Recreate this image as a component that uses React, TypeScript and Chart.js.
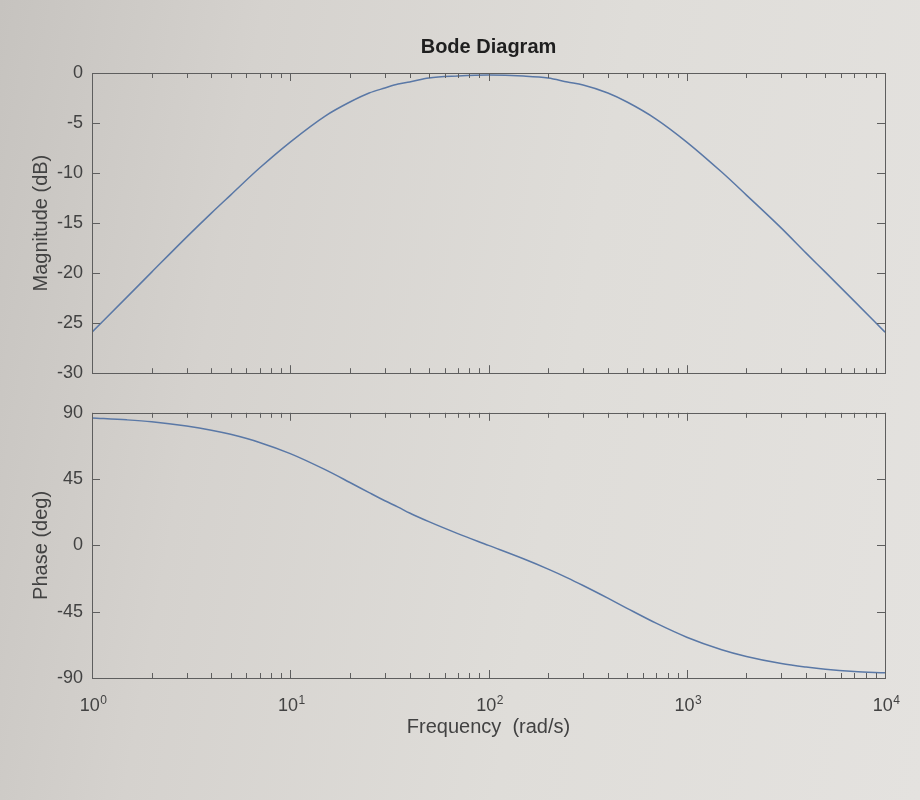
import React, { useEffect, useRef } from "react";
import { Chart, registerables } from "chart.js";

Chart.register(...registerables);

// ---- data ----
const FREQ = [1, 1.5, 2, 3, 4, 5, 7, 10, 15, 20, 25, 30, 35, 40, 50, 70, 100, 150, 200, 250, 300, 400, 500, 700, 1000, 1500, 2000, 3000, 4000, 5000, 7000, 10000];
const MAG_DB = [-25.9, -22.4, -19.9, -16.4, -14.0, -12.2, -9.5, -6.9, -4.3, -2.9, -2.0, -1.5, -1.1, -0.9, -0.5, -0.3, -0.2, -0.3, -0.5, -0.9, -1.2, -2.0, -2.9, -4.6, -6.9, -9.9, -12.2, -15.5, -18.0, -19.9, -22.8, -25.9];
const PHASE_DEG = [86.5, 85.2, 83.9, 81.0, 78.2, 75.4, 69.9, 62.3, 51.4, 42.7, 35.8, 30.3, 26.0, 22.0, 16.1, 8.0, 0, -9.1, -16.1, -22.0, -27.2, -35.8, -42.7, -52.8, -62.3, -70.8, -75.4, -80.2, -82.6, -84.1, -85.6, -86.5];

const X_TICKS = [1, 10, 100, 1000, 10000];
const X_TICK_BASE = "10";
const X_TICK_EXP = ["0", "1", "2", "3", "4"];
const X_MINOR_MULT = [2, 3, 4, 5, 6, 7, 8, 9];
const MAG_TICKS = [0, -5, -10, -15, -20, -25, -30];
const PHASE_TICKS = [90, 45, 0, -45, -90];

const TITLE = "Bode Diagram";
const MAG_LABEL = "Magnitude (dB)";
const PHASE_LABEL = "Phase (deg)";
const FREQ_LABEL = "Frequency  (rad/s)";

// ---- styles ----
const FONT = "'Liberation Sans', Arial, Helvetica, sans-serif";
const LINE_COLOR = "#5a78a6";
const AXIS_COLOR = "#5e5e5e";
const TEXT_COLOR = "#424242";

const boxTicksPlugin = {
  id: "boxTicks",
  afterDatasetsDraw(chart: any) {
    const { ctx, chartArea } = chart;
    const { left, right, top, bottom } = chartArea;
    const xs = chart.scales.x;
    const ys = chart.scales.y;
    ctx.save();
    ctx.strokeStyle = AXIS_COLOR;
    ctx.lineWidth = 1;
    ctx.beginPath();
    const drawX = (v: number, len: number) => {
      const px = Math.round(xs.getPixelForValue(v)) + 0.5;
      ctx.moveTo(px, bottom);
      ctx.lineTo(px, bottom - len);
      ctx.moveTo(px, top);
      ctx.lineTo(px, top + len);
    };
    X_TICKS.forEach((d) => {
      drawX(d, 8);
      if (d < 10000) X_MINOR_MULT.forEach((m) => drawX(m * d, 5));
    });
    ys.ticks.forEach((t: any) => {
      const py = Math.round(ys.getPixelForValue(t.value)) + 0.5;
      ctx.moveTo(left, py);
      ctx.lineTo(left + 8, py);
      ctx.moveTo(right, py);
      ctx.lineTo(right - 8, py);
    });
    ctx.stroke();
    ctx.strokeRect(Math.round(left) + 0.5, Math.round(top) + 0.5, Math.round(right - left), Math.round(bottom - top));
    ctx.restore();
  },
};

// power-of-ten tick labels (base + raised exponent) on the x scale of the lower chart
const expLabelsPlugin = {
  id: "expLabels",
  afterDraw(chart: any) {
    const { ctx, chartArea } = chart;
    const xs = chart.scales.x;
    ctx.save();
    ctx.fillStyle = TEXT_COLOR;
    ctx.textBaseline = "alphabetic";
    ctx.textAlign = "left";
    X_TICKS.forEach((v, i) => {
      const px = xs.getPixelForValue(v);
      ctx.font = `18px ${FONT}`;
      const wb = ctx.measureText(X_TICK_BASE).width;
      ctx.font = `12px ${FONT}`;
      const we = ctx.measureText(X_TICK_EXP[i]).width;
      const x0 = px - (wb + we) / 2 + 1;
      const baseY = chartArea.bottom + 33;
      ctx.font = `18px ${FONT}`;
      ctx.fillText(X_TICK_BASE, x0, baseY);
      ctx.font = `12px ${FONT}`;
      ctx.fillText(X_TICK_EXP[i], x0 + wb + 0.5, baseY - 7);
    });
    ctx.restore();
  },
};

function yScale(min: number, max: number, ticks: number[], label: string) {
  return {
    type: "linear",
    position: "left",
    min,
    max,
    afterBuildTicks: (s: any) => {
      s.ticks = ticks.map((v) => ({ value: v }));
    },
    afterFit: (s: any) => {
      s.width = 92;
    },
    grid: { display: false, drawTicks: false },
    border: { display: false },
    ticks: {
      color: TEXT_COLOR,
      font: { family: FONT, size: 18 },
      padding: 9,
      callback: (v: any) => String(v),
    },
    title: {
      display: true,
      text: label,
      color: TEXT_COLOR,
      font: { family: FONT, size: 20 },
      padding: { top: 29, bottom: 0 },
    },
  };
}

function dataset(values: number[]) {
  return {
    data: FREQ.map((f, i) => ({ x: f, y: values[i] })),
    borderColor: LINE_COLOR,
    borderWidth: 1.5,
    pointRadius: 0,
    cubicInterpolationMode: "monotone",
    fill: false,
  };
}

export default function App() {
  const topRef = useRef<HTMLCanvasElement>(null);
  const botRef = useRef<HTMLCanvasElement>(null);

  useEffect(() => {
    const top = new Chart(topRef.current as HTMLCanvasElement, {
      type: "line",
      data: { datasets: [dataset(MAG_DB) as any] },
      options: {
        responsive: false,
        animation: false,
        layout: { padding: { top: 20, bottom: 12, left: 0, right: 35 } },
        plugins: {
          legend: { display: false },
          tooltip: { enabled: false },
          title: {
            display: true,
            fullSize: false,
            text: TITLE,
            color: "#1f1f1f",
            font: { family: FONT, size: 20, weight: "bold" },
            padding: { top: 15, bottom: 14 },
          },
        },
        scales: {
          x: { type: "logarithmic", display: false, min: 1, max: 10000 },
          y: yScale(-30, 0, MAG_TICKS, MAG_LABEL) as any,
        },
      },
      plugins: [boxTicksPlugin],
    });

    const bot = new Chart(botRef.current as HTMLCanvasElement, {
      type: "line",
      data: { datasets: [dataset(PHASE_DEG) as any] },
      options: {
        responsive: false,
        animation: false,
        layout: { padding: { top: 12, bottom: 0, left: 0, right: 35 } },
        plugins: { legend: { display: false }, tooltip: { enabled: false } },
        scales: {
          x: {
            type: "logarithmic",
            min: 1,
            max: 10000,
            afterBuildTicks: (s: any) => {
              s.ticks = X_TICKS.map((v) => ({ value: v }));
            },
            afterFit: (s: any) => {
              s.height = 122;
            },
            grid: { display: false, drawTicks: false },
            border: { display: false },
            ticks: { display: false },
            title: {
              display: true,
              text: FREQ_LABEL,
              color: TEXT_COLOR,
              font: { family: FONT, size: 20 },
              padding: { top: 0, bottom: 61 },
            },
          } as any,
          y: yScale(-90, 90, PHASE_TICKS, PHASE_LABEL) as any,
        },
      },
      plugins: [boxTicksPlugin, expLabelsPlugin],
    });

    return () => {
      top.destroy();
      bot.destroy();
    };
  }, []);

  return (
    <div
      style={{
        position: "absolute",
        left: 0,
        top: 0,
        width: 920,
        height: 800,
        overflow: "hidden",
        background: "linear-gradient(100deg, #c6c3bf 0%, #d5d2ce 25%, #dfddd9 60%, #e4e2df 100%)",
      }}
    >
      <canvas ref={topRef} width={920} height={393} style={{ position: "absolute", left: 0, top: 0, display: "block" }} />
      <canvas ref={botRef} width={920} height={407} style={{ position: "absolute", left: 0, top: 393, display: "block" }} />
    </div>
  );
}
